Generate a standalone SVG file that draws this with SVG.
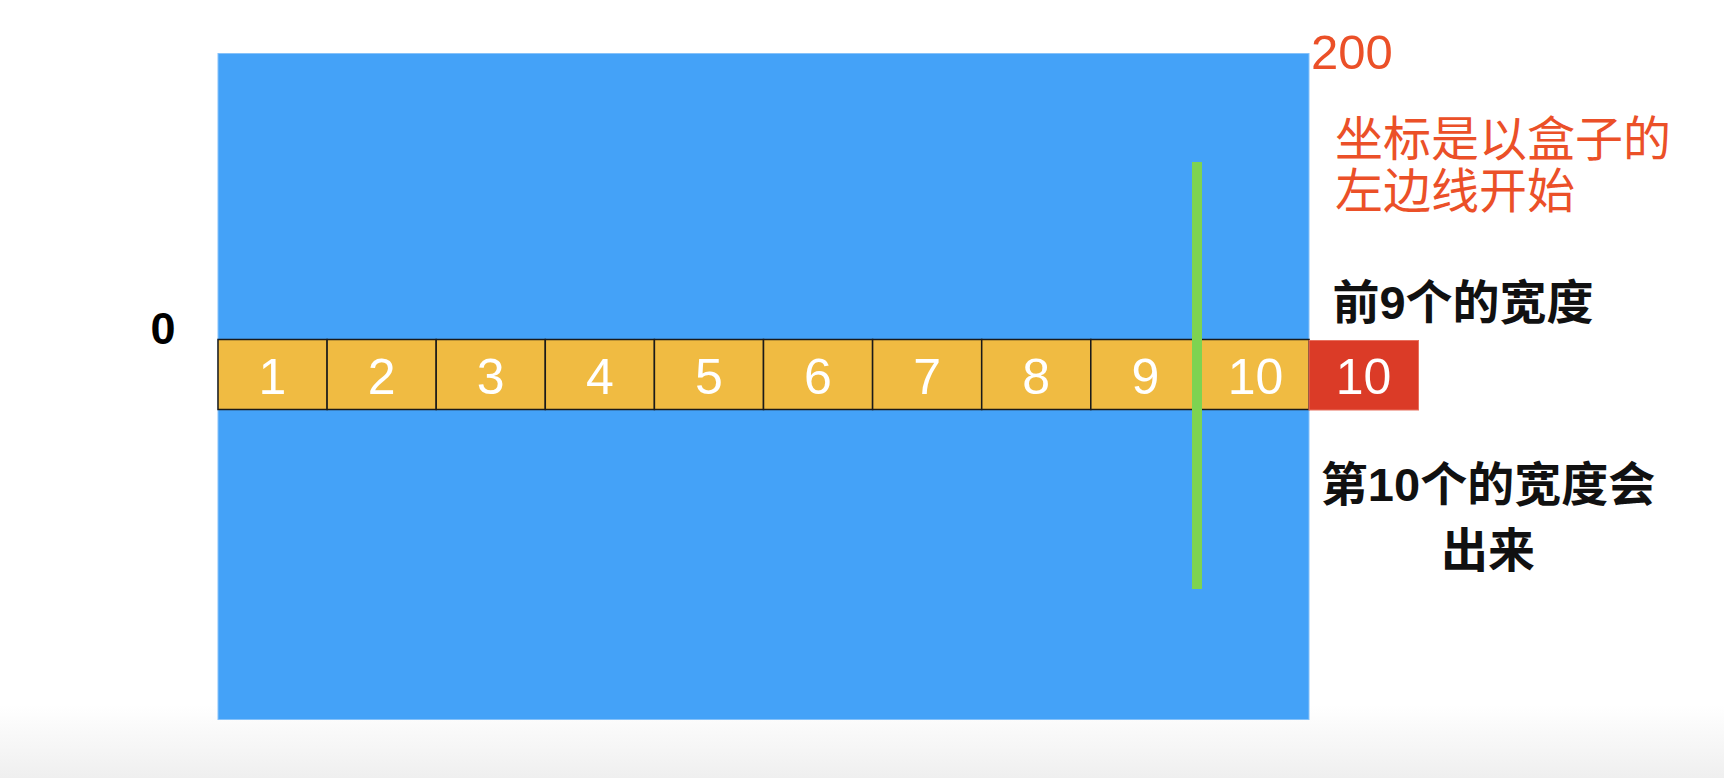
<svg xmlns="http://www.w3.org/2000/svg" width="1724" height="778" viewBox="0 0 1724 778">
<style>
.cell{fill:#F0BB42;stroke:#1a1a1a;stroke-width:1.5}
.num{font-family:"Liberation Sans",Arial,sans-serif;font-size:50px;fill:#ffffff;text-anchor:middle}
.note{font-family:"Liberation Sans","Noto Sans CJK SC",sans-serif;font-size:47px;font-weight:bold;fill:#111111}
.red{font-family:"Liberation Sans","Noto Sans CJK SC",sans-serif;fill:#EB5028}
</style>
<defs>
<linearGradient id="fade" x1="0" y1="0" x2="0" y2="1">
<stop offset="0" stop-color="#ffffff"/>
<stop offset="1" stop-color="#efefef"/>
</linearGradient>
</defs>
<rect x="0" y="0" width="1724" height="778" fill="#ffffff"/>
<rect x="0" y="705" width="1724" height="73" fill="url(#fade)"/>
<g id="box">
<rect x="218" y="53.5" width="1091" height="666" fill="#44A2F8" stroke="#86C2FA" stroke-width="1"/>
</g>
<g id="cells">
<rect class="cell" x="218" y="339.5" width="109.1" height="70"/>
<rect class="cell" x="327.1" y="339.5" width="109.1" height="70"/>
<rect class="cell" x="436.2" y="339.5" width="109.1" height="70"/>
<rect class="cell" x="545.3" y="339.5" width="109.1" height="70"/>
<rect class="cell" x="654.4" y="339.5" width="109.1" height="70"/>
<rect class="cell" x="763.5" y="339.5" width="109.1" height="70"/>
<rect class="cell" x="872.6" y="339.5" width="109.1" height="70"/>
<rect class="cell" x="981.7" y="339.5" width="109.1" height="70"/>
<rect class="cell" x="1090.8" y="339.5" width="109.1" height="70"/>
<rect class="cell" x="1199.9" y="339.5" width="109.1" height="70"/>
<text class="num" x="272.5" y="394">1</text>
<text class="num" x="381.6" y="394">2</text>
<text class="num" x="490.7" y="394">3</text>
<text class="num" x="599.8" y="394">4</text>
<text class="num" x="708.9" y="394">5</text>
<text class="num" x="818" y="394">6</text>
<text class="num" x="927.1" y="394">7</text>
<text class="num" x="1036.2" y="394">8</text>
<text class="num" x="1145.3" y="394">9</text>
<text class="num" x="1255.5" y="394">10</text>
</g>
<g id="overflow">
<rect x="1309" y="340.5" width="109.5" height="69.5" fill="#DB3B27" stroke="#E8705E" stroke-width="1"/>
<text class="num" x="1363.5" y="394">10</text>
</g>
<g id="marker">
<rect x="1192" y="162" width="10" height="427" fill="#7ED351"/>
</g>
<g id="labels">
<text x="163" y="343.5" font-family="Liberation Sans,Arial,sans-serif" font-size="45" font-weight="bold" fill="#000" text-anchor="middle">0</text>
<text class="red" x="1311" y="68.5" font-size="49">200</text>
<text class="red" x="1335" y="156" font-size="48">坐标是以盒子的</text>
<text class="red" x="1335" y="208" font-size="48">左边线开始</text>
<text class="note" x="1463" y="319" text-anchor="middle">前9个的宽度</text>
<text class="note" x="1488" y="501" text-anchor="middle">第10个的宽度会</text>
<text class="note" x="1488" y="567" text-anchor="middle">出来</text>
</g>
</svg>
